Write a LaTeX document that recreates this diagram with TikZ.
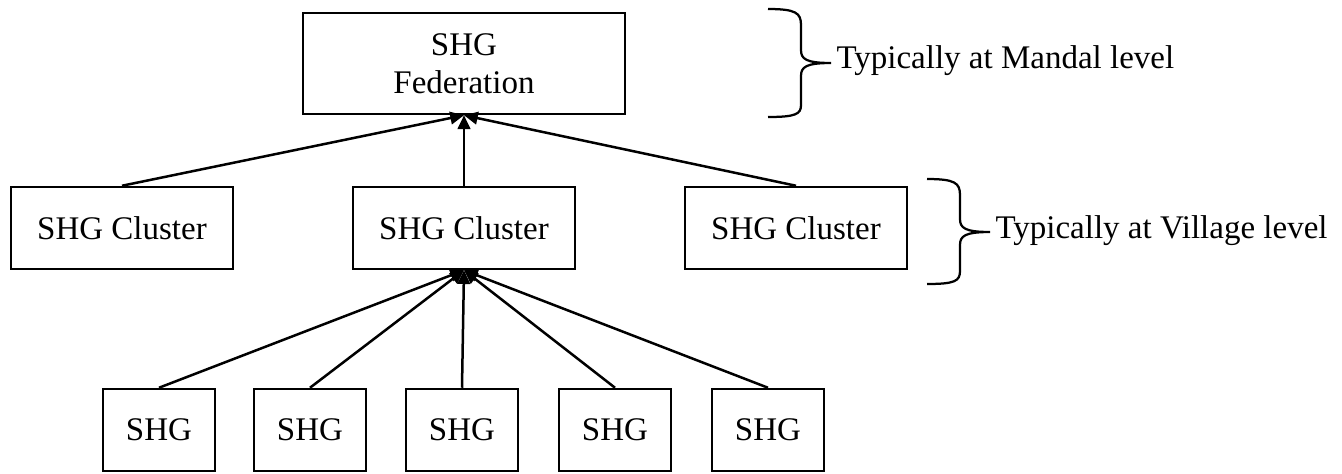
\documentclass[tikz,border=0pt]{standalone}
\usepackage{fontspec}
\setmainfont{Liberation Serif}
\usetikzlibrary{arrows.meta}
\begin{document}
\begin{tikzpicture}[x={(0.4pt,0)},y={(0,-0.4pt)},
  txt/.style={font=\fontsize{13.2}{15}\selectfont,align=center},
  box/.style={draw,line width=1pt,inner sep=0pt,txt},
  fedbox/.style={box,minimum width=128.8pt,minimum height=40.4pt},
  clbox/.style={box,minimum width=88.8pt,minimum height=32.8pt},
  shgbox/.style={box,minimum width=44.8pt,minimum height=32.8pt},
  conn/.style={line width=1pt,-{Triangle[length=5.5pt,width=5pt]}},
  brace/.style={line width=0.9pt},
  lbl/.style={anchor=west,inner sep=0pt,txt}]
\useasboundingbox (0,0) rectangle (1342,474);
\node[fedbox] (fed) at (464,63.5) {SHG\\Federation};
\node[clbox] (c1) at (122,228) {SHG Cluster};
\node[clbox] (c2) at (464,228) {SHG Cluster};
\node[clbox] (c3) at (796,228) {SHG Cluster};
\node[shgbox] (s1) at (159,430) {SHG};
\node[shgbox] (s2) at (310,430) {SHG};
\node[shgbox] (s3) at (462,430) {SHG};
\node[shgbox] (s4) at (615,430) {SHG};
\node[shgbox] (s5) at (768,430) {SHG};
\draw[conn] (c1.north) -- (fed.south);
\draw[conn] (c2.north) -- (fed.south);
\draw[conn] (c3.north) -- (fed.south);
\foreach \s in {s1,s2,s3,s4,s5} \draw[conn] (\s.north) -- (c2.south);
% braces
\draw[brace] (768,9) .. controls (796,9) and (801,13) .. (801,25) -- (801,50) .. controls (801,59) and (806,63) .. (831,63) .. controls (806,63) and (801,67) .. (801,76) -- (801,105) .. controls (801,114) and (796,117) .. (768,117);
\node[lbl] (t1) at (836,61) {Typically at Mandal level};
\draw[brace] (927,179) .. controls (955,179) and (960,183) .. (960,195) -- (960,219) .. controls (960,228) and (965,232) .. (990,232) .. controls (965,232) and (960,236) .. (960,245) -- (960,271) .. controls (960,281) and (955,284) .. (927,284);
\node[lbl] (t2) at (995,231) {Typically at Village level};
\end{tikzpicture}
\end{document}
